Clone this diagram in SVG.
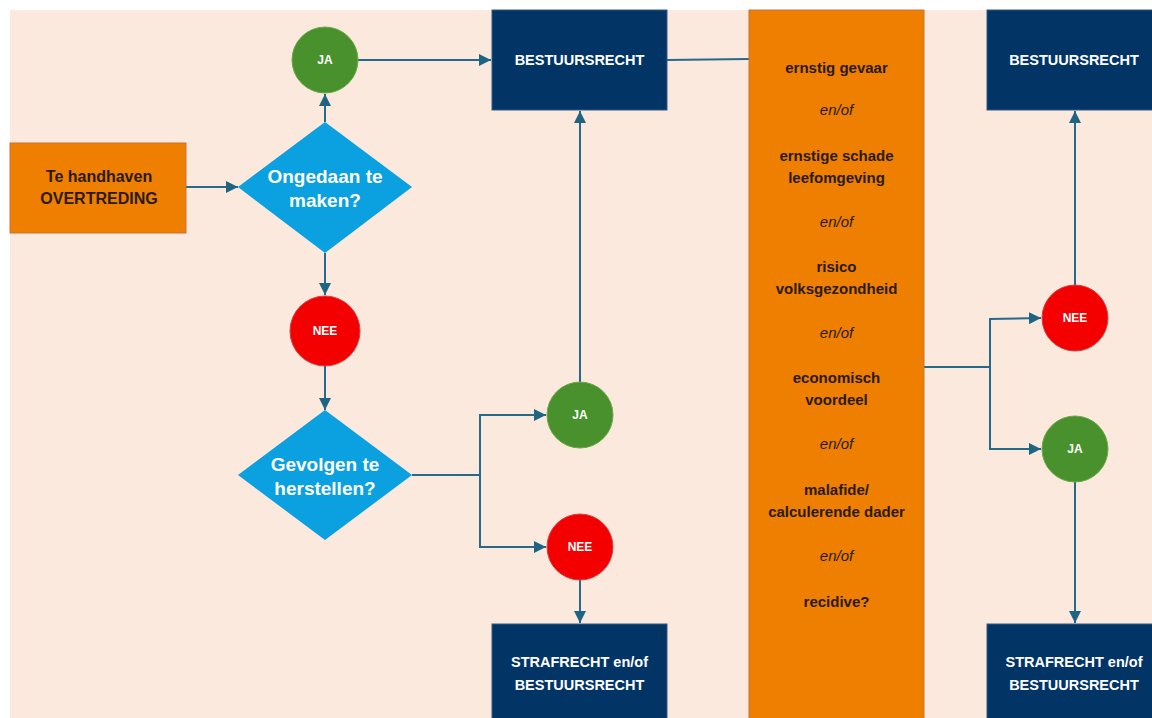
<svg xmlns="http://www.w3.org/2000/svg" width="1152" height="718" viewBox="0 0 1152 718">
<defs>
<style>
.t{font-family:"Liberation Sans",Arial,sans-serif;font-weight:bold;text-anchor:middle}
.w{fill:#ffffff}
.d{fill:#2a1a10}
.i{font-style:italic;font-weight:normal}
.nav{fill:#023466;stroke:#2f5a85;stroke-width:1}
.org{fill:#ee7f00;stroke:#c8733a;stroke-width:1}
.dia{fill:#0ba0e0}
.ja{fill:#48912c;stroke:#6aa84a;stroke-width:1}
.nee{fill:#f50000;stroke:#d04040;stroke-width:1}
.c{fill:none;stroke:#27698a;stroke-width:2}
</style>
<marker id="ah" viewBox="0 0 10 10" refX="10" refY="5" markerWidth="6" markerHeight="6" orient="auto" markerUnits="strokeWidth">
<path d="M0,0 L10,5 L0,10 z" fill="#1d6583"/>
</marker>
</defs>
<rect x="0" y="0" width="1152" height="718" fill="#ffffff"/>
<rect x="10" y="10" width="1142" height="708" fill="#fbe9dd"/>

<g id="connectors">
<line class="c" x1="186" y1="187" x2="238" y2="187" marker-end="url(#ah)"/>
<line class="c" x1="325" y1="122" x2="325" y2="94" marker-end="url(#ah)"/>
<line class="c" x1="358" y1="60" x2="491" y2="60" marker-end="url(#ah)"/>
<line class="c" x1="667" y1="60" x2="749" y2="59"/>
<line class="c" x1="325" y1="253" x2="325" y2="295" marker-end="url(#ah)"/>
<line class="c" x1="325" y1="365" x2="325" y2="410" marker-end="url(#ah)"/>
<polyline class="c" points="412,475 480,475 480,415 546,415" marker-end="url(#ah)"/>
<polyline class="c" points="480,475 480,547 546,547" marker-end="url(#ah)"/>
<line class="c" x1="580" y1="382" x2="580" y2="111" marker-end="url(#ah)"/>
<line class="c" x1="580" y1="580" x2="580" y2="623" marker-end="url(#ah)"/>
<polyline class="c" points="924,367 990,367 990,319 1041,318" marker-end="url(#ah)"/>
<polyline class="c" points="990,367 990,449 1041,449" marker-end="url(#ah)"/>
<line class="c" x1="1075" y1="285" x2="1075" y2="111" marker-end="url(#ah)"/>
<line class="c" x1="1075" y1="482" x2="1075" y2="623" marker-end="url(#ah)"/>
</g>

<g id="overtreding">
<rect class="org" x="10" y="143" width="176" height="90"/>
<text class="t d" x="99" y="182" font-size="16">Te handhaven</text>
<text class="t d" x="99" y="204" font-size="16">OVERTREDING</text>
</g>

<g id="ongedaan">
<polygon class="dia" points="325,122 412,187 325,253 238,187"/>
<text class="t w" x="325" y="183" font-size="19">Ongedaan te</text>
<text class="t w" x="325" y="207" font-size="19">maken?</text>
</g>

<g id="ja1">
<circle class="ja" cx="325" cy="60" r="33"/>
<text class="t w" x="325" y="64" font-size="12">JA</text>
</g>

<g id="nee1">
<circle class="nee" cx="325" cy="331" r="35"/>
<text class="t w" x="325" y="335" font-size="12">NEE</text>
</g>

<g id="gevolgen">
<polygon class="dia" points="325,410 412,475 325,540 238,475"/>
<text class="t w" x="325" y="471" font-size="19">Gevolgen te</text>
<text class="t w" x="325" y="495" font-size="19">herstellen?</text>
</g>

<g id="ja2">
<circle class="ja" cx="580" cy="415" r="33"/>
<text class="t w" x="580" y="419" font-size="12">JA</text>
</g>

<g id="nee2">
<circle class="nee" cx="580" cy="547" r="33"/>
<text class="t w" x="580" y="551" font-size="12">NEE</text>
</g>

<g id="bestuursrecht1">
<rect class="nav" x="492" y="10" width="175" height="100"/>
<text class="t w" x="579.5" y="65" font-size="14.5">BESTUURSRECHT</text>
</g>

<g id="strafrecht1">
<rect class="nav" x="492" y="624" width="175" height="100"/>
<text class="t w" x="579.5" y="667" font-size="14.5">STRAFRECHT en/of</text>
<text class="t w" x="579.5" y="690" font-size="14.5">BESTUURSRECHT</text>
</g>

<g id="criteria">
<rect class="org" x="749" y="10" width="175" height="720"/>
<text class="t d" x="836.5" y="73" font-size="15">ernstig gevaar</text>
<text class="t d i" x="836.5" y="115" font-size="15">en/of</text>
<text class="t d" x="836.5" y="161" font-size="15">ernstige schade</text>
<text class="t d" x="836.5" y="183" font-size="15">leefomgeving</text>
<text class="t d i" x="836.5" y="227" font-size="15">en/of</text>
<text class="t d" x="836.5" y="272" font-size="15">risico</text>
<text class="t d" x="836.5" y="294" font-size="15">volksgezondheid</text>
<text class="t d i" x="836.5" y="338" font-size="15">en/of</text>
<text class="t d" x="836.5" y="383" font-size="15">economisch</text>
<text class="t d" x="836.5" y="405" font-size="15">voordeel</text>
<text class="t d i" x="836.5" y="449" font-size="15">en/of</text>
<text class="t d" x="836.5" y="495" font-size="15">malafide/</text>
<text class="t d" x="836.5" y="517" font-size="15">calculerende dader</text>
<text class="t d i" x="836.5" y="561" font-size="15">en/of</text>
<text class="t d" x="836.5" y="607" font-size="15">recidive?</text>
</g>

<g id="nee3">
<circle class="nee" cx="1075" cy="318" r="33"/>
<text class="t w" x="1075" y="322" font-size="12">NEE</text>
</g>

<g id="ja3">
<circle class="ja" cx="1075" cy="449" r="33"/>
<text class="t w" x="1075" y="453" font-size="12">JA</text>
</g>

<g id="bestuursrecht2">
<rect class="nav" x="987" y="10" width="175" height="100"/>
<text class="t w" x="1074" y="65" font-size="14.5">BESTUURSRECHT</text>
</g>

<g id="strafrecht2">
<rect class="nav" x="987" y="624" width="175" height="100"/>
<text class="t w" x="1074" y="667" font-size="14.5">STRAFRECHT en/of</text>
<text class="t w" x="1074" y="690" font-size="14.5">BESTUURSRECHT</text>
</g>
</svg>
